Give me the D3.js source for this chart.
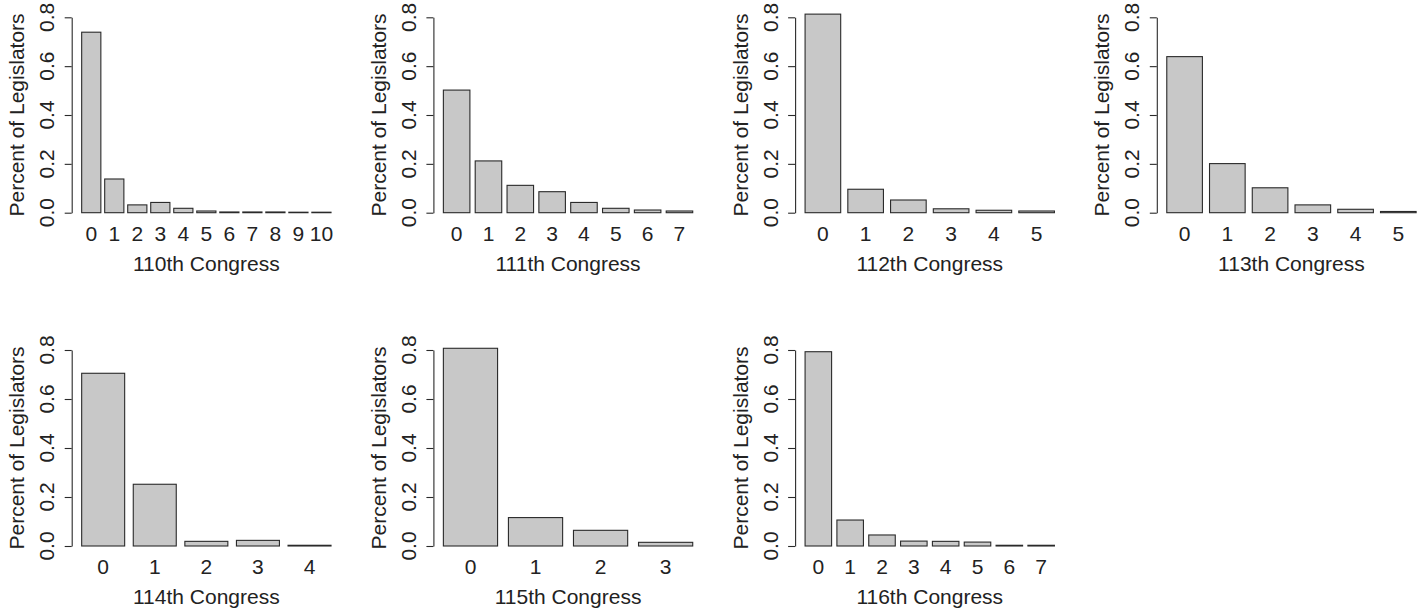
<!DOCTYPE html>
<html lang="en">
<head>
<meta charset="utf-8">
<title>Percent of Legislators by Congress</title>
<script src="https://d3js.org/d3.v7.min.js"></script>
<style>
  body { margin: 0; background: #fff; }
  text { font-family: "Liberation Sans", Arial, Helvetica, sans-serif; fill: #222; }
</style>
</head>
<body>
<script>
// values, one array per congress
const c110 = [0.739, 0.138, 0.032, 0.042, 0.018, 0.007, 0.003, 0.003, 0.003, 0.002, 0.002];
const c111 = [0.502, 0.212, 0.112, 0.086, 0.042, 0.018, 0.011, 0.007];
const c112 = [0.813, 0.096, 0.052, 0.016, 0.010, 0.007];
const c113 = [0.639, 0.201, 0.102, 0.032, 0.014, 0.005];
const c114 = [0.705, 0.252, 0.019, 0.023, 0.003];
const c115 = [0.807, 0.116, 0.064, 0.015];
const c116 = [0.793, 0.106, 0.045, 0.020, 0.019, 0.016, 0.003, 0.003];

const titles = ["110th Congress", "111th Congress", "112th Congress", "113th Congress",
                "114th Congress", "115th Congress", "116th Congress"];
const series = [c110, c111, c112, c113, c114, c115, c116];
const yTicks = [0, 0.2, 0.4, 0.6, 0.8];

const W = 1418, H = 612;
const colLeft = 71.7, colStep = 361.7, plotW = 269.3;
const rowBase = [212.7, 546], rowTop = [17.3, 350];
const fs = 21;

const svg = d3.select("body").append("svg")
  .attr("width", W).attr("height", H);

series.forEach((vals, i) => {
  const row = Math.floor(i / 4), col = i % 4;
  const left = colLeft + col * colStep;
  const n = vals.length;

  // barplot layout: width 1, space 0.2, 4% padding each side
  const span = 1.2 * n - 0.2;
  const x = d3.scaleLinear()
    .domain([0.2 - 0.04 * span, 1.2 * n + 0.04 * span])
    .range([left, left + plotW]);
  const y = d3.scaleLinear()
    .domain([0, 0.8])
    .range([rowBase[row], rowTop[row]]);

  const g = svg.append("g");

  g.selectAll("rect")
    .data(vals)
    .enter()
    .append("rect")
    .attr("x", (d, k) => x(0.2 + k * 1.2))
    .attr("width", (d, k) => x(1.2 + k * 1.2) - x(0.2 + k * 1.2))
    .attr("y", d => y(d))
    .attr("height", d => y(0) - y(d))
    .attr("fill", "#c8c8c8")
    .attr("stroke", "#2a2a2a")
    .attr("stroke-width", 1.1);

  // y axis (lines only, labels are rotated below)
  const ax = g.append("g")
    .attr("transform", "translate(" + left + ",0)")
    .call(d3.axisLeft(y).tickValues(yTicks).tickSize(7).tickSizeOuter(0).tickFormat(""));
  ax.selectAll("path, line").attr("stroke", "#2a2a2a").attr("stroke-width", 1.1);

  g.selectAll(".ytl")
    .data(yTicks)
    .enter()
    .append("text")
    .attr("class", "ytl")
    .attr("transform", d => "translate(" + (left - 25) + "," + y(d) + ") rotate(-90)")
    .attr("text-anchor", "middle")
    .attr("dominant-baseline", "central")
    .style("font-size", fs + "px")
    .text(d3.format(".1f"));

  // category names under bars
  g.selectAll(".xtl")
    .data(vals)
    .enter()
    .append("text")
    .attr("class", "xtl")
    .attr("x", (d, k) => x(0.7 + k * 1.2))
    .attr("y", rowBase[row] + 20.5)
    .attr("text-anchor", "middle")
    .attr("dominant-baseline", "central")
    .style("font-size", fs + "px")
    .text((d, k) => k);

  g.append("text")
    .attr("x", left + plotW / 2)
    .attr("y", rowBase[row] + 50.5)
    .attr("text-anchor", "middle")
    .attr("dominant-baseline", "central")
    .style("font-size", fs + "px")
    .text(titles[i]);

  g.append("text")
    .attr("transform", "translate(" + (left - 55) + "," + (rowBase[row] + rowTop[row]) / 2 + ") rotate(-90)")
    .attr("text-anchor", "middle")
    .attr("dominant-baseline", "central")
    .style("font-size", fs + "px")
    .text("Percent of Legislators");
});
</script>
</body>
</html>
